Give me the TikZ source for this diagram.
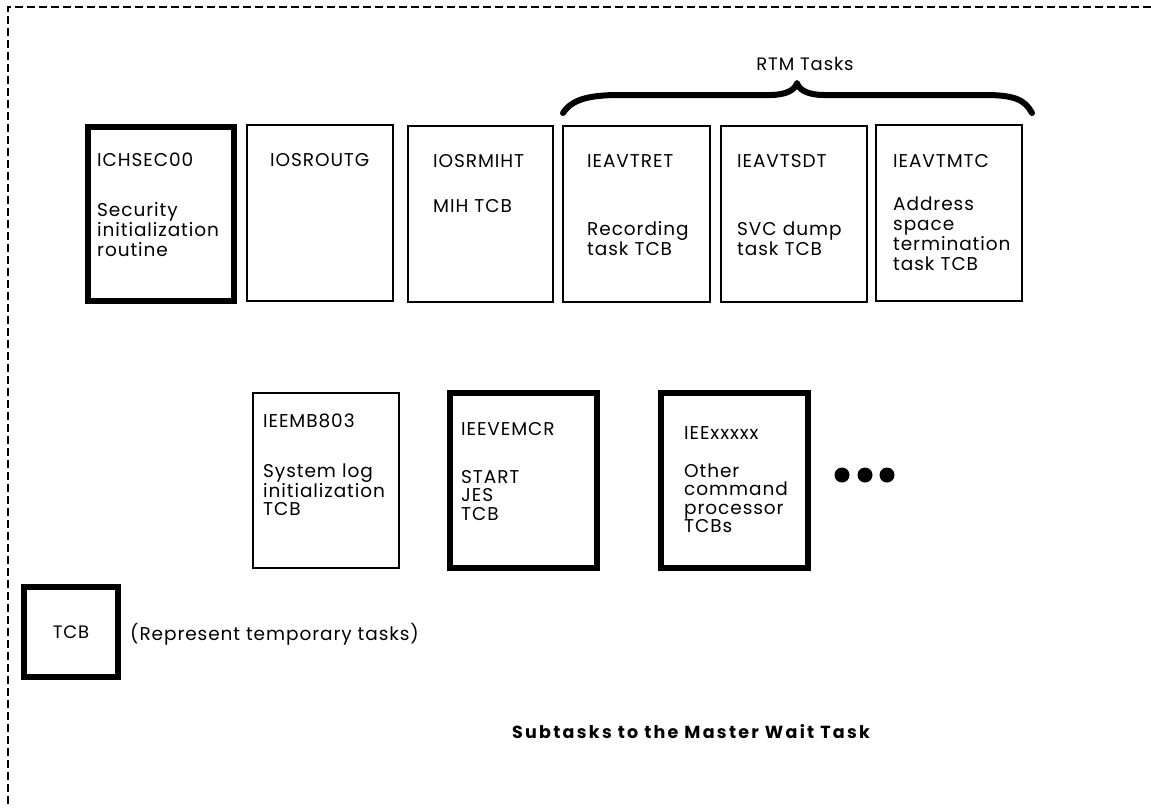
\documentclass[tikz,border=0pt]{standalone}
\usepackage{fontspec}
\setmainfont{Poppins}[LetterSpace=5]
\newfontfamily\capfont{Poppins}[LetterSpace=13]
\usetikzlibrary{fit}
\tikzset{
  thinbox/.style={draw, line width=1.4pt, inner sep=0pt},
  thickbox/.style={draw, line width=5.5pt, inner sep=0pt},
  ttl/.style={inner sep=0pt, anchor=base west, font=\fontsize{18.5}{20}\selectfont},
  desc/.style={inner sep=0pt, anchor=base west, align=left, text width=150pt, font=\fontsize{18.5}{20}\selectfont},
  desctwo/.style={desc, font=\fontsize{18.5}{18.5}\selectfont},
  dot/.style={circle, fill=black, minimum size=15pt, inner sep=0pt},
}
\begin{document}
\begin{tikzpicture}[x=1pt,y=-1pt]
\useasboundingbox (0,0) rectangle (1151,807);
% dashed frame
\draw[line width=1.5pt, dash pattern=on 8pt off 4pt] (1151,7) -- (8,7) -- (8,807);

% row 1
\node[thickbox, fit={(88,127) (234,301)}] (b1) {};
\node[thinbox,  fit={(247,125) (393,301)}] (b2) {};
\node[thinbox,  fit={(408,126) (553,302)}] (b3) {};
\node[thinbox,  fit={(563,126) (710,302)}] (b4) {};
\node[thinbox,  fit={(721,126) (867,302)}] (b5) {};
\node[thinbox,  fit={(876,125) (1022,301)}] (b6) {};

\node[ttl] (t1) at (97,166) {ICHSEC00};
\node[desc] (d1) at (97,216) {Security\\initialization\\routine};
\node[ttl] (t2) at (270,166) {IOSROUTG};
\node[ttl] (t3) at (433,167) {IOSRMIHT};
\node[desc] (d3) at (433,212) {MIH TCB};
\node[ttl] (t4) at (587,167) {IEAVTRET};
\node[desc] (d4) at (587,235) {Recording\\task TCB};
\node[ttl] (t5) at (737,167) {IEAVTSDT};
\node[desc] (d5) at (737,235) {SVC dump\\task TCB};
\node[ttl] (t6) at (893,167) {IEAVTMTC};
\node[desc] (d6) at (893,210) {Address\\space\\termination\\task TCB};

% brace and label
\draw[line width=6pt, line cap=round, line join=round]
  (563,113) .. controls (572,99) and (590,95) .. (620,95) -- (770,95)
  .. controls (786,95) and (795,90) .. (797,83)
  .. controls (799,90) and (808,95) .. (824,95) -- (985,95)
  .. controls (1015,95) and (1025,100) .. (1032,113);
\node[inner sep=0pt, anchor=base, font=\fontsize{18}{18}\selectfont] (rtm) at (805,70) {RTM Tasks};

% row 2
\node[thinbox,  fit={(253,393) (399,568)}] (b7) {};
\node[thickbox, fit={(450,393) (597,568)}] (b8) {};
\node[thickbox, fit={(661,393) (808,568)}] (b9) {};

\node[ttl] (t7) at (263,427) {IEEMB803};
\node[desctwo] (d7) at (263,477) {System log\\initialization\\TCB};
\node[ttl] (t8) at (461,435) {IEEVEMCR};
\node[desctwo] (d8) at (461,483) {START\\JES\\TCB};
\node[ttl] (t9) at (684,439) {IEExxxxx};
\node[desctwo] (d9) at (684,477) {Other\\command\\processor\\TCBs};

\node[dot] (p1) at (842,475) {};
\node[dot] (p2) at (865,475) {};
\node[dot] (p3) at (887,475) {};

% legend
\node[thickbox, fit={(24,587) (118,677)}] (lg) {};
\node[inner sep=0pt, font=\fontsize{18}{18}\selectfont] (lgt) at (lg.center) {TCB};
\node[inner sep=0pt, anchor=base west, font=\fontsize{18.5}{18}\selectfont] (lgd) at (130,640) {(Represent temporary tasks)};

% caption
\node[inner sep=0pt, anchor=base, font=\capfont\bfseries\fontsize{17.5}{17.5}\selectfont] (cap) at (691,738) {Subtasks to the Master Wait Task};
\end{tikzpicture}
\end{document}
